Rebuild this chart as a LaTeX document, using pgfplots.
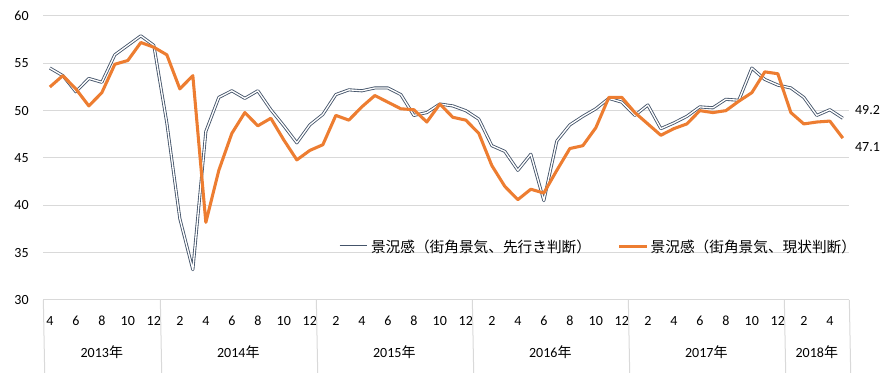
\documentclass[border=0pt]{standalone}
\usepackage{fontspec}
\setmainfont{Carlito}
\newfontfamily\jp{Noto Sans CJK JP}
\usepackage{pgfplots}
\pgfplotsset{compat=1.18}
\definecolor{slate}{HTML}{44546A}
\definecolor{orng}{HTML}{ED7D31}
\definecolor{gridc}{HTML}{D9D9D9}
\begin{document}
\begin{tikzpicture}
\useasboundingbox (-32.5pt,-54.75pt) rectangle (636.5pt,225pt);
\begin{axis}[
  at={(0,0)}, anchor=south west,
  scale only axis, width=604.5pt, height=213pt,
  xmin=-0.5, xmax=61.5, ymin=30, ymax=60,
  enlargelimits=false, clip=false,
  axis line style={draw=none},
  major tick length=0pt,
  ytick={30,35,...,60},
  ymajorgrids, major grid style={draw=gridc, line width=0.75pt},
  xtick={0,2,...,60},
  xticklabels={4,6,8,10,12,2,4,6,8,10,12,2,4,6,8,10,12,2,4,6,8,10,12,2,4,6,8,10,12,2,4},
  x tick label style={anchor=center, yshift=-15.5pt, font=\fontsize{10.5}{12}\selectfont},
  y tick label style={anchor=east, xshift=-7.5pt, font=\fontsize{10.5}{12}\selectfont},
  /pgf/number format/assume math mode=true,
  legend style={at={(rel axis cs:1.012,0.187)}, anchor=east, draw=none, fill=none,
    font=\jp\fontsize{11}{13}\selectfont, inner sep=0pt,
    /tikz/every even column/.append style={column sep=18pt}},
  legend columns=2,
  legend cell align=left,
  legend image code/.code={\draw[#1] (0cm,0cm) -- (0.72cm,0cm);},
]
\addplot[draw=slate, double=white, double distance=1pt, line width=0.65pt, line join=round] coordinates {
(0,54.5)(1,53.7)(2,52.0)(3,53.4)(4,53.0)(5,55.9)(6,56.9)(7,57.9)(8,56.9)(9,48.7)
(10,38.6)(11,33.2)(12,47.8)(13,51.4)(14,52.1)(15,51.3)(16,52.1)(17,50.1)(18,48.4)(19,46.6)
(20,48.5)(21,49.6)(22,51.7)(23,52.2)(24,52.1)(25,52.4)(26,52.4)(27,51.7)(28,49.5)(29,49.8)
(30,50.7)(31,50.5)(32,50.0)(33,49.1)(34,46.3)(35,45.7)(36,43.7)(37,45.4)(38,40.5)(39,46.8)
(40,48.5)(41,49.4)(42,50.2)(43,51.3)(44,50.9)(45,49.5)(46,50.6)(47,48.1)(48,48.7)(49,49.4)
(50,50.4)(51,50.3)(52,51.2)(53,51.1)(54,54.5)(55,53.3)(56,52.7)(57,52.4)(58,51.4)(59,49.5)
(60,50.1)(61,49.2)};
\addlegendentry{景況感（街角景気、先行き判断）}
\addplot[draw=orng, line width=2.3pt, line join=round] coordinates {
(0,52.5)(1,53.7)(2,52.3)(3,50.5)(4,51.9)(5,54.9)(6,55.3)(7,57.2)(8,56.7)(9,55.9)
(10,52.3)(11,53.7)(12,38.2)(13,43.7)(14,47.6)(15,49.8)(16,48.4)(17,49.2)(18,46.9)(19,44.8)
(20,45.8)(21,46.4)(22,49.5)(23,49.0)(24,50.4)(25,51.6)(26,50.9)(27,50.2)(28,50.1)(29,48.8)
(30,50.7)(31,49.3)(32,49.0)(33,47.6)(34,44.2)(35,42.0)(36,40.6)(37,41.7)(38,41.3)(39,43.7)
(40,46.0)(41,46.3)(42,48.2)(43,51.4)(44,51.4)(45,49.8)(46,48.6)(47,47.4)(48,48.1)(49,48.6)
(50,50.0)(51,49.8)(52,50.0)(53,51.0)(54,51.9)(55,54.1)(56,53.9)(57,49.8)(58,48.6)(59,48.8)
(60,48.9)(61,47.1)};
\addlegendentry{景況感（街角景気、現状判断）}
% data labels
\node[anchor=west, inner sep=0pt, xshift=9pt, font=\fontsize{10.5}{12}\selectfont] at (axis cs:61,50.05) {49.2};
\node[anchor=west, inner sep=0pt, xshift=9pt, font=\fontsize{10.5}{12}\selectfont] at (axis cs:61,46.2) {47.1};
% category separators
\pgfplotsinvokeforeach{-0.5,8.5,20.5,32.5,44.5,56.5,61.5}{
  \draw[gridc, line width=0.75pt] (axis cs:#1,30) -- ++(0,-47pt);
}
% year labels
\node[anchor=center, font=\fontsize{10.5}{12}\selectfont] at ([yshift=-38.8pt]axis cs:4,30) {2013{\jp 年}};
\node[anchor=center, font=\fontsize{10.5}{12}\selectfont] at ([yshift=-38.8pt]axis cs:14.5,30) {2014{\jp 年}};
\node[anchor=center, font=\fontsize{10.5}{12}\selectfont] at ([yshift=-38.8pt]axis cs:26.5,30) {2015{\jp 年}};
\node[anchor=center, font=\fontsize{10.5}{12}\selectfont] at ([yshift=-38.8pt]axis cs:38.5,30) {2016{\jp 年}};
\node[anchor=center, font=\fontsize{10.5}{12}\selectfont] at ([yshift=-38.8pt]axis cs:50.5,30) {2017{\jp 年}};
\node[anchor=center, font=\fontsize{10.5}{12}\selectfont] at ([yshift=-38.8pt]axis cs:59,30) {2018{\jp 年}};
\end{axis}
\end{tikzpicture}
\end{document}
